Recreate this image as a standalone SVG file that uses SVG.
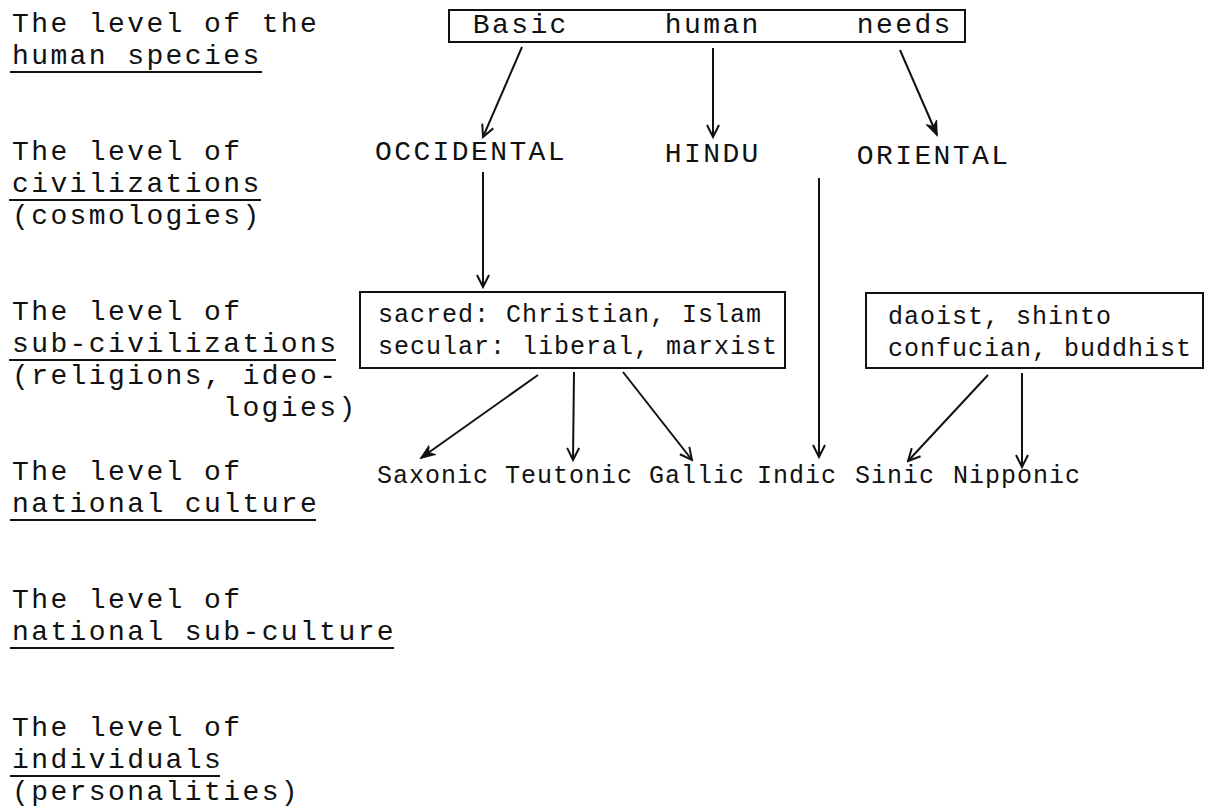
<svg xmlns="http://www.w3.org/2000/svg" width="1210" height="810" viewBox="0 0 1210 810">
<style>
  .lbl { font-family: "Liberation Mono", "Courier New", monospace; font-size: 28px; letter-spacing: 2.4px; fill: #111; }
  .sm { font-family: "Liberation Mono", "Courier New", monospace; font-size: 25px; letter-spacing: 1px; fill: #111; }
  .ul { stroke: #111; stroke-width: 2; }
  .box { fill: none; stroke: #111; stroke-width: 2; }
  .conn { stroke: #111; stroke-width: 2; fill: none; }
</style>
<defs>
  <marker id="head" viewBox="-14 -8 16 16" refX="0" refY="0" markerWidth="16" markerHeight="16" markerUnits="userSpaceOnUse" orient="auto">
    <path d="M-12,-6 L0,0 L-12,6" fill="none" stroke="#111" stroke-width="2"/>
  </marker>
  <marker id="head-solid" viewBox="-14 -8 16 16" refX="0" refY="0" markerWidth="16" markerHeight="16" markerUnits="userSpaceOnUse" orient="auto">
    <path d="M-13,-5 L0,0 L-13,5 L-9,0 Z" fill="#111" stroke="#111" stroke-width="1.5"/>
  </marker>
</defs>
<rect width="1210" height="810" fill="#fff"/>

<g id="level-species">
  <text class="lbl" x="12" y="32">The level of the</text>
  <text class="lbl" x="12" y="64">human species</text>
  <line class="ul" x1="10" y1="72" x2="262" y2="72"/>
</g>
<g id="level-civilizations">
  <text class="lbl" x="12" y="160">The level of</text>
  <text class="lbl" x="12" y="192">civilizations</text>
  <line class="ul" x1="9" y1="200" x2="261" y2="200"/>
  <text class="lbl" x="12" y="224">(cosmologies)</text>
</g>
<g id="level-subcivilizations">
  <text class="lbl" x="12" y="320">The level of</text>
  <text class="lbl" x="12" y="352">sub-civilizations</text>
  <line class="ul" x1="9" y1="360" x2="336" y2="360"/>
  <text class="lbl" x="12" y="384">(religions, ideo-</text>
  <text class="lbl" x="223.2" y="416">logies)</text>
</g>
<g id="level-national">
  <text class="lbl" x="12" y="480">The level of</text>
  <text class="lbl" x="12" y="512">national culture</text>
  <line class="ul" x1="10" y1="520" x2="316" y2="520"/>
</g>
<g id="level-subculture">
  <text class="lbl" x="12" y="608">The level of</text>
  <text class="lbl" x="12" y="640">national sub-culture</text>
  <line class="ul" x1="10" y1="648" x2="394" y2="648"/>
</g>
<g id="level-individuals">
  <text class="lbl" x="12" y="736">The level of</text>
  <text class="lbl" x="12" y="768">individuals</text>
  <line class="ul" x1="10" y1="776" x2="220" y2="776"/>
  <text class="lbl" x="12" y="800">(personalities)</text>
</g>

<g id="basic-needs">
  <rect class="box" x="449" y="10" width="516" height="32"/>
  <text class="lbl" x="472.8" y="33">Basic</text>
  <text class="lbl" x="664.8" y="33">human</text>
  <text class="lbl" x="856.8" y="33">needs</text>
</g>
<g id="occidental"><text class="lbl" x="375" y="160">OCCIDENTAL</text></g>
<g id="hindu"><text class="lbl" x="664.8" y="162">HINDU</text></g>
<g id="oriental"><text class="lbl" x="856.8" y="164">ORIENTAL</text></g>

<g id="occidental-religions">
  <rect class="box" x="360" y="292" width="425" height="76"/>
  <text class="sm" x="378" y="322">sacred: Christian, Islam</text>
  <text class="sm" x="378" y="354">secular: liberal, marxist</text>
</g>
<g id="oriental-religions">
  <rect class="box" x="866" y="293" width="337" height="75"/>
  <text class="sm" x="888" y="324">daoist, shinto</text>
  <text class="sm" x="888" y="356">confucian, buddhist</text>
</g>

<g id="saxonic"><text class="sm" x="377" y="483">Saxonic</text></g>
<g id="teutonic"><text class="sm" x="505" y="483">Teutonic</text></g>
<g id="gallic"><text class="sm" x="649" y="483">Gallic</text></g>
<g id="indic"><text class="sm" x="757" y="483">Indic</text></g>
<g id="sinic"><text class="sm" x="855" y="483">Sinic</text></g>
<g id="nipponic"><text class="sm" x="953" y="483">Nipponic</text></g>

<g id="connectors">
  <line class="conn" x1="522" y1="47" x2="483" y2="137" marker-end="url(#head)"/>
  <line class="conn" x1="713" y1="48" x2="713" y2="137" marker-end="url(#head)"/>
  <line class="conn" x1="900" y1="50" x2="937" y2="135" marker-end="url(#head-solid)"/>
  <line class="conn" x1="483" y1="172" x2="483" y2="287" marker-end="url(#head)"/>
  <line class="conn" x1="819" y1="178" x2="819" y2="457" marker-end="url(#head)"/>
  <line class="conn" x1="538" y1="375" x2="421" y2="458" marker-end="url(#head-solid)"/>
  <line class="conn" x1="574" y1="372" x2="573" y2="460" marker-end="url(#head)"/>
  <line class="conn" x1="623" y1="372" x2="692" y2="460" marker-end="url(#head)"/>
  <line class="conn" x1="988" y1="375" x2="908" y2="461" marker-end="url(#head)"/>
  <line class="conn" x1="1022" y1="373" x2="1022" y2="467" marker-end="url(#head)"/>
</g>
</svg>
